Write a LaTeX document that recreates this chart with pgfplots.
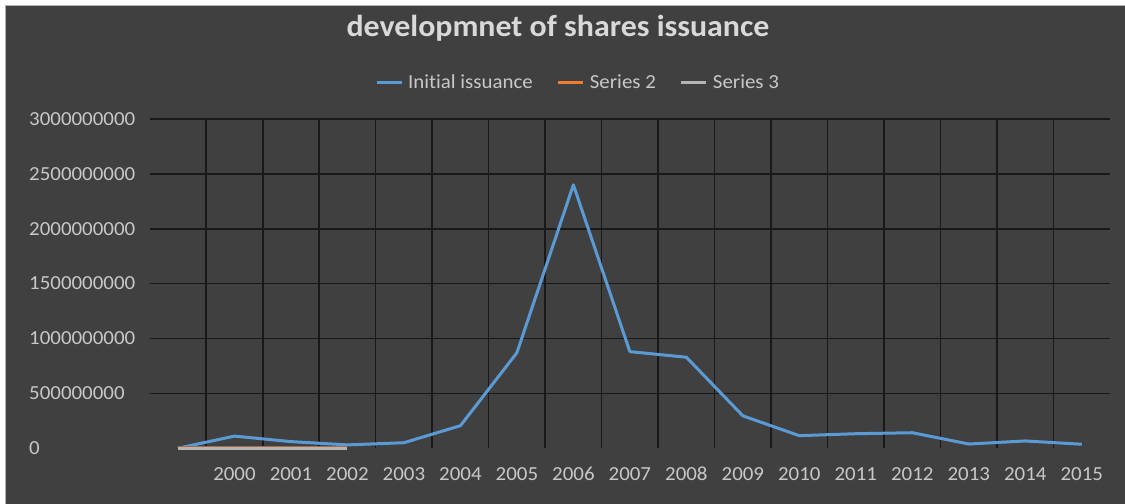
\documentclass[border=0pt]{standalone}
\usepackage{pgfplots}
\pgfplotsset{compat=1.18}
\usepackage{fontspec}
\setmainfont{Carlito}[FakeStretch=1.05, Ligatures=NoCommon]
\definecolor{bg}{HTML}{404040}
\definecolor{lblgray}{HTML}{C8C8C8}
\definecolor{titlegray}{HTML}{D9D9D9}
\definecolor{sblue}{HTML}{5B9BD5}
\definecolor{sorange}{HTML}{A86A45}
\definecolor{sorangeL}{HTML}{ED7D31}
\definecolor{sgray}{HTML}{B4B4B4}
\begin{document}
\begin{tikzpicture}
\fill[white] (0,0) rectangle (1125bp,504bp);
\fill[bg] (6bp,0) rectangle (1125bp,498bp);
\draw[gray!60, line width=1bp] (5.5bp,0) -- (5.5bp,498.5bp) -- (1125bp,498.5bp);
\node[anchor=base, text=titlegray, inner sep=0pt, font=\fontsize{30.5}{32}\selectfont\bfseries] at (558bp,467.5bp) {developmnet of shares issuance};
\begin{axis}[
  at={(149.75bp,55.8bp)}, anchor=south west,
  scale only axis, width=960.25bp, height=329.2bp,
  xmin=-0.5, xmax=16.5, ymin=0, ymax=3000000000,
  clip=false,
  axis line style={draw=none},
  major tick length=0pt, minor tick length=0pt,
  xtick={1,2,3,4,5,6,7,8,9,10,11,12,13,14,15,16},
  xticklabels={2000,2001,2002,2003,2004,2005,2006,2007,2008,2009,2010,2011,2012,2013,2014,2015},
  minor xtick={0.5,1.5,2.5,3.5,4.5,5.5,6.5,7.5,8.5,9.5,10.5,11.5,12.5,13.5,14.5,15.5},
  xminorgrids,
  ytick={0,500000000,1000000000,1500000000,2000000000,2500000000,3000000000},
  yticklabels={0,500000000,1000000000,1500000000,2000000000,2500000000,3000000000},
  minor ytick={500000000,1000000000,1500000000,2000000000,2500000000,3000000000},
  yminorgrids,
  minor grid style={black!90, line width=1.6bp},
  scaled y ticks=false,
  tick label style={font=\fontsize{20}{22}\selectfont, text=lblgray},
  yticklabel style={anchor=west, xshift=-120.75bp, inner sep=0pt},
  xticklabel style={anchor=base, yshift=-32.5bp, inner sep=0pt},
  legend columns=3,
  legend style={at={(0.2346,1.1103)}, anchor=west, draw=none, fill=none,
    inner sep=0pt, outer sep=0pt, font=\fontsize{20}{21}\selectfont, text=lblgray,
    /tikz/every odd column/.style={column sep=5bp},
    /tikz/every even column/.style={column sep=24bp},
    nodes={inner sep=0pt}},
  legend image code/.code={\draw[#1, line width=3bp] (0bp,0bp) -- (25bp,0bp);},
]
\addplot[sblue, line width=3bp, line join=round] coordinates {
(0,0) (1,110000000) (2,60000000) (3,30000000) (4,50000000) (5,205000000)
(6,870000000) (7,2400000000) (8,880000000) (9,829000000) (10,295000000)
(11,114000000) (12,132000000) (13,141000000) (14,38000000) (15,66000000) (16,36000000)};
\addlegendentry{Initial issuance\hspace{18bp}}
\addplot[sorange, line width=3.4bp, legend image code/.code={\draw[color=sorangeL, line width=3bp] (0bp,0bp) -- (25bp,0bp);}] coordinates {(0,0) (1,0) (2,0) (3,0)};
\addlegendentry{Series 2}
\addplot[sgray, line width=2.6bp] coordinates {(0,0) (1,0) (2,0) (3,0)};
\addlegendentry{Series 3}
\end{axis}
\pgfresetboundingbox
\useasboundingbox (0,0) rectangle (1125bp,504bp);
\end{tikzpicture}
\end{document}
